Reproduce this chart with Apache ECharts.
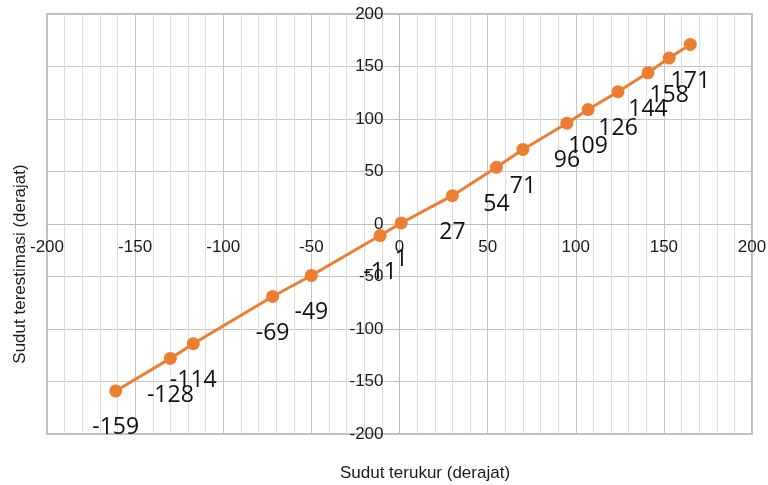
<!DOCTYPE html>
<html>
<head>
<meta charset="utf-8">
<script src="https://cdn.jsdelivr.net/npm/echarts@6/dist/echarts.min.js"></script>
<style>
  html, body { margin: 0; padding: 0; background: #ffffff; }
  #chart { width: 768px; height: 485px; }
</style>
</head>
<body>
<div id="chart"></div>
<script>
// Measured angle (x) against estimated angle (y), both in degrees
const measured = [-161, -130, -117, -72, -50, -11, 1, 30, 55, 70, 95, 107, 124, 141, 153, 165];
const estimated = [-159, -128, -114, -69, -49, -11, 1, 27, 54, 71, 96, 109, 126, 144, 158, 171];

const xTitle = 'Sudut terukur (derajat)';
const yTitle = 'Sudut terestimasi (derajat)';

const axisMin = -200;
const axisMax = 200;
const axisStep = 50;

const points = measured.map((x, i) => [x, estimated[i]]);

// Plot rectangle
const W = 768, H = 485;
const gridBox = { left: 47, right: 16, top: 14, bottom: 51 };
const plotW = W - gridBox.left - gridBox.right;
const plotH = H - gridBox.top - gridBox.bottom;
// Both axes cross at the origin, which sits mid-plot on each side of the symmetric range
const zeroFracX = (0 - axisMin) / (axisMax - axisMin);
const zeroFracY = (axisMax - 0) / (axisMax - axisMin);

const tickFont = { fontFamily: '"Liberation Sans", Arial, sans-serif', fontSize: 17, color: '#1a1a1a' };
const majorGrid = '#c4c4c4';
const minorGrid = '#dedede';

const chart = echarts.init(document.getElementById('chart'), null, { renderer: 'canvas' });

chart.setOption({
  animation: false,
  backgroundColor: '#ffffff',
  grid: Object.assign({
    show: true, borderColor: '#bdbdbd', borderWidth: 2, backgroundColor: 'transparent',
    containLabel: false, outerBoundsMode: 'none'
  }, gridBox),
  xAxis: {
    type: 'value',
    min: axisMin, max: axisMax, interval: axisStep,
    position: 'bottom',
    offset: -plotH * (1 - zeroFracY),
    axisLine: { show: true, onZero: false, lineStyle: { color: '#bdbdbd', width: 1 } },
    axisTick: { show: true, length: 4, lineStyle: { color: '#bdbdbd' } },
    minorTick: { show: false, splitNumber: 5 },
    minorSplitLine: { show: true, lineStyle: { color: minorGrid, width: 1 } },
    splitLine: { show: true, lineStyle: { color: majorGrid, width: 1 } },
    axisLabel: Object.assign({ margin: 15, showMinLabel: true, showMaxLabel: true, hideOverlap: false }, tickFont)
  },
  yAxis: {
    type: 'value',
    min: axisMin, max: axisMax, interval: axisStep,
    position: 'left',
    offset: -plotW * zeroFracX,
    axisLine: { show: true, onZero: false, lineStyle: { color: '#bdbdbd', width: 1 } },
    axisTick: { show: true, length: 4, lineStyle: { color: '#bdbdbd' } },
    splitLine: { show: true, lineStyle: { color: majorGrid, width: 1 } },
    axisLabel: Object.assign({ margin: 16, showMinLabel: true, showMaxLabel: true, hideOverlap: false }, tickFont)
  },
  series: [{
    type: 'line',
    data: points,
    symbol: 'circle',
    symbolSize: 13,
    lineStyle: { color: '#ed7d31', width: 3 },
    itemStyle: { color: '#ed7d31' },
    label: {
      show: true,
      position: 'inside',
      offset: [0, 37],
      formatter: p => String(p.value[1]),
      fontFamily: '"Open Sans", "Noto Sans", sans-serif',
      fontSize: 23,
      color: '#111111'
    },
    z: 3
  }],
  graphic: [
    {
      type: 'text',
      x: 425, y: 473,
      style: {
        text: xTitle,
        font: '17px "Liberation Sans", Arial, sans-serif',
        fill: '#1a1a1a',
        align: 'center', verticalAlign: 'middle'
      }
    },
    {
      type: 'text',
      x: 20, y: 264,
      rotation: Math.PI / 2,
      style: {
        text: yTitle,
        font: '17px "Liberation Sans", Arial, sans-serif',
        fill: '#1a1a1a',
        align: 'center', verticalAlign: 'middle'
      }
    }
  ]
});
</script>
</body>
</html>
